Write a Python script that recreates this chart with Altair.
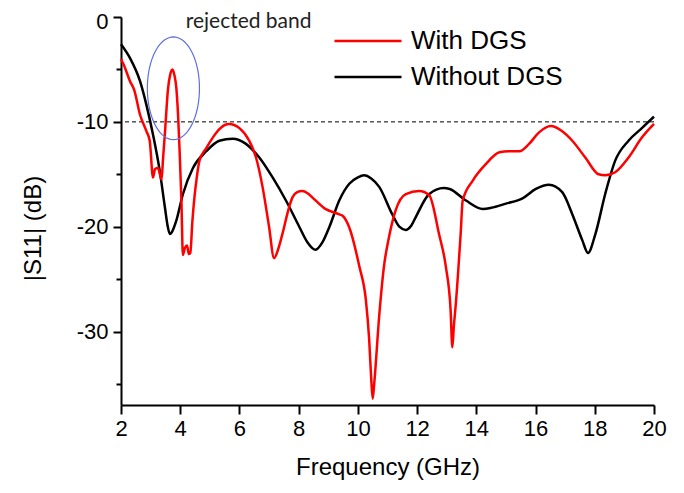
import altair as alt
import pandas as pd
import numpy as np

# ---- data ----
freq_with = [2.0, 2.1, 2.3, 2.45, 2.64, 2.86, 2.97, 3.08, 3.15, 3.25, 3.37, 3.42, 3.48, 3.59, 3.66,
             3.74, 3.80, 3.87, 3.93, 3.98, 4.04, 4.09, 4.16, 4.23, 4.29, 4.34, 4.41, 4.48, 4.55,
             4.65, 4.88, 5.10, 5.32, 5.50, 5.66, 5.82, 6.00, 6.33, 6.56, 6.78, 7.00, 7.17, 7.30,
             7.45, 7.68, 7.79, 7.95, 8.12, 8.30, 8.46, 8.90, 9.35, 9.50, 9.70, 10.05, 10.27,
             10.38, 10.45, 10.50, 10.55, 10.72, 10.88, 11.05, 11.28, 11.62, 12.07, 12.41, 12.74,
             12.97, 13.13, 13.19, 13.24, 13.30, 13.47, 13.54, 13.88, 14.33, 14.78, 15.10, 15.45,
             15.78, 16.12, 16.51, 16.90, 17.24, 17.68, 18.13, 18.35, 18.69, 19.14, 19.59, 20.0]
s11_with = [-4.0, -4.6, -6.1, -7.0, -9.3, -10.9, -11.8, -15.3, -14.5, -14.4, -15.5, -13.5, -11.2,
            -6.8, -5.5, -5.0, -5.5, -6.8, -9.5, -12.8, -17.5, -22.7, -22.0, -21.8, -22.6, -22.5,
            -19.5, -17.2, -15.5, -13.7, -12.5, -11.5, -10.7, -10.3, -10.2, -10.3, -10.6, -11.8,
            -13.4, -16.2, -20.0, -23.0, -22.2, -20.7, -18.1, -17.2, -16.7, -16.6, -16.8, -17.2,
            -18.3, -18.8, -19.0, -20.0, -23.8, -27.0, -30.7, -34.5, -36.4, -35.0, -28.5, -23.8,
            -21.0, -18.4, -16.9, -16.6, -17.0, -20.7, -23.8, -27.9, -31.5, -29.5, -27.6, -20.7,
            -17.5, -15.6, -14.0, -12.9, -12.8, -12.8, -12.1, -11.0, -10.4, -10.9, -11.8, -13.4,
            -15.0, -15.1, -14.8, -13.4, -11.5, -10.2]

freq_without = [2.0, 2.3, 2.64, 2.86, 3.08, 3.31, 3.48, 3.58, 3.65, 3.72, 3.87, 4.09, 4.43, 4.88,
                5.32, 5.77, 6.22, 6.67, 7.12, 7.57, 8.02, 8.30, 8.57, 8.80, 9.04, 9.37, 9.71,
                10.0, 10.21, 10.45, 10.72, 11.16, 11.40, 11.61, 11.80, 11.95, 12.40, 12.90,
                13.10, 13.65, 14.22, 14.50, 15.00, 15.56, 16.01, 16.45, 16.90, 17.24, 17.58,
                17.77, 18.02, 18.35, 18.69, 19.14, 19.59, 20.0]
s11_without = [-2.6, -3.9, -6.1, -8.4, -11.2, -14.7, -18.1, -20.0, -20.7, -20.5, -19.4, -16.9,
               -14.4, -12.8, -11.8, -11.6, -12.1, -13.4, -15.3, -17.5, -20.0, -21.5, -22.2,
               -21.5, -20.0, -17.5, -15.9, -15.3, -15.1, -15.4, -16.2, -18.8, -20.0, -20.3,
               -19.9, -19.1, -16.9, -16.3, -16.4, -17.5, -18.3, -18.2, -17.8, -17.3, -16.4,
               -16.0, -16.7, -18.8, -21.3, -22.5, -20.7, -16.9, -13.7, -11.8, -10.6, -9.5]

series_names = ["With DGS", "Without DGS"]
series_colors = ["#ff0000", "#000000"]

x_tick_values = list(range(2, 21))
y_tick_values = list(range(-35, 1, 5))

threshold = [-10]
annotation_text = ["rejected band"]
annotation_pos = [(6.31, -0.45)]
ellipse_center = (3.77, -6.8)
ellipse_radius = (0.88, 4.9)

# ---- tables ----
df = pd.concat([
    pd.DataFrame({"f": freq_without, "s": s11_without, "series": series_names[1]}),
    pd.DataFrame({"f": freq_with, "s": s11_with, "series": series_names[0]}),
], ignore_index=True)
df["idx"] = range(len(df))

t = np.linspace(0, 2 * np.pi, 73)
ell = pd.DataFrame({
    "f": ellipse_center[0] + ellipse_radius[0] * np.cos(t),
    "s": ellipse_center[1] + ellipse_radius[1] * np.sin(t),
    "o": range(len(t)),
})
txt = pd.DataFrame({"f": [annotation_pos[0][0]], "s": [annotation_pos[0][1]], "t": annotation_text})
thr = pd.DataFrame({"s": threshold})

x_scale = alt.Scale(domain=[2, 20], nice=False, zero=False)
y_scale = alt.Scale(domain=[-37, 0], nice=False, zero=False)

lab_font = "Liberation Sans"

x_axis = alt.Axis(
    values=x_tick_values,
    labelExpr="datum.value % 2 === 0 ? '' + datum.value : ''",
    tickSize={"condition": {"test": "datum.value % 2 === 0", "value": 9}, "value": 5},
    title="Frequency (GHz)",
    titleFont="Liberation Sans", titleFontSize=24, titleFontWeight="normal",
    titleBaseline="middle", titleY=62,
    labelFont=lab_font, labelFontSize=22, labelPadding=4,
    labelFlush=False, labelOverlap=False,
)
y_axis = alt.Axis(
    values=y_tick_values,
    labelExpr="datum.value % 10 === 0 ? '' + datum.value : ''",
    labelOffset={"condition": {"test": "datum.value === 0", "value": 4}, "value": 0},
    tickSize={"condition": {"test": "datum.value % 10 === 0", "value": 8}, "value": 5},
    title="|S11| (dB)",
    titleFont="Liberation Sans", titleFontSize=24, titleFontWeight="normal",
    titleBaseline="middle", titleX=-88, titleY=211,
    labelFont=lab_font, labelFontSize=22, labelPadding=5,
    labelFlush=False, labelOverlap=False,
)

lines = alt.Chart(df).mark_line(strokeWidth=2.5, interpolate="monotone").encode(
    x=alt.X("f:Q", scale=x_scale, axis=x_axis),
    y=alt.Y("s:Q", scale=y_scale, axis=y_axis),
    color=alt.Color("series:N",
                    scale=alt.Scale(domain=series_names, range=series_colors),
                    legend=alt.Legend(orient="none", legendX=212, legendY=11, title=None,
                                      symbolType="stroke", symbolSize=4489,
                                      symbolStrokeWidth=2.5, labelFontSize=26,
                                      labelFont="Liberation Sans", labelColor="black",
                                      labelOffset=8, rowPadding=10, padding=0,
                                      clipHeight=26)),
    order="idx:Q",
)

rule = alt.Chart(thr).mark_rule(color="black", strokeWidth=1, strokeDash=[4, 3]).encode(
    y=alt.Y("s:Q", scale=y_scale),
)

ellipse = alt.Chart(ell).mark_line(color="#5f6fe0", strokeWidth=1.2).encode(
    x=alt.X("f:Q", scale=x_scale),
    y=alt.Y("s:Q", scale=y_scale),
    order="o:Q",
)

label = alt.Chart(txt).mark_text(font="Lato", fontSize=21, color="#222222").encode(
    x=alt.X("f:Q", scale=x_scale),
    y=alt.Y("s:Q", scale=y_scale),
    text="t:N",
)

chart = alt.layer(rule, lines, ellipse, label).properties(
    width=533, height=388,
    autosize=alt.AutoSizeParams(type="none"),
    padding={"left": 113, "top": 9, "right": 20, "bottom": 80},
).configure_view(stroke=None).configure_axis(
    grid=False, domainColor="black", domainWidth=2, tickColor="black", tickWidth=2,
    labelColor="black", titleColor="black",
)

chart.save("out.html", embed_options={"renderer": "svg", "actions": False})
